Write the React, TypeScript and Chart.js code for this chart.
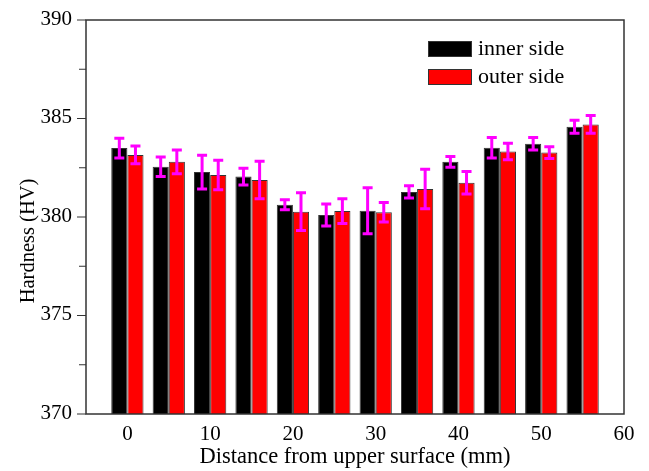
import React, { useEffect, useRef } from "react";
import { Chart, registerables } from "chart.js";

Chart.register(...registerables);

const positions = [0, 5, 10, 15, 20, 25, 30, 35, 40, 45, 50, 55];
const innerValues = [383.5, 382.55, 382.28, 382.05, 380.62, 380.1, 380.32, 381.27, 382.8, 383.52, 383.72, 384.58];
const innerErrors = [0.5, 0.5, 0.86, 0.43, 0.25, 0.56, 1.17, 0.31, 0.27, 0.52, 0.32, 0.33];
const outerValues = [383.15, 382.8, 382.13, 381.88, 380.27, 380.3, 380.24, 381.42, 381.74, 383.33, 383.27, 384.7];
const outerErrors = [0.45, 0.6, 0.75, 0.95, 0.96, 0.63, 0.49, 1.0, 0.57, 0.42, 0.3, 0.45];
const xTicks = [0, 10, 20, 30, 40, 50, 60];
const yMajorTicks = [370, 375, 380, 385, 390];
const yMinorTicks = [372.5, 377.5, 382.5, 387.5];
const seriesLabels = ["inner side", "outer side"];
const seriesColors = ["#000000", "#ff0000"];
const yTitle = "Hardness (HV)";
const xTitle = "Distance from upper surface (mm)";

const FONT = "'Liberation Serif', 'Times New Roman', serif";

const extrasPlugin = {
  id: "extras",
  afterDatasetsDraw(chart: any) {
    const ctx = chart.ctx;
    const yScale = chart.scales.y;
    const area = chart.chartArea;
    const errs = [innerErrors, outerErrors];
    const vals = [innerValues, outerValues];
    ctx.save();
    // error bars
    ctx.strokeStyle = "#ff00ff";
    ctx.lineWidth = 3;
    chart.data.datasets.forEach((_ds: any, di: number) => {
      const meta = chart.getDatasetMeta(di);
      meta.data.forEach((el: any, i: number) => {
        const x = el.x;
        const yt = yScale.getPixelForValue(vals[di][i] + errs[di][i]);
        const yb = yScale.getPixelForValue(vals[di][i] - errs[di][i]);
        ctx.beginPath();
        ctx.moveTo(x, yt);
        ctx.lineTo(x, yb);
        ctx.moveTo(x - 5, yt);
        ctx.lineTo(x + 5, yt);
        ctx.moveTo(x - 5, yb);
        ctx.lineTo(x + 5, yb);
        ctx.stroke();
      });
    });
    // frame
    ctx.strokeStyle = "#333333";
    ctx.lineWidth = 1.5;
    ctx.strokeRect(area.left, area.top, area.right - area.left, area.bottom - area.top);
    // y ticks
    ctx.lineWidth = 1.2;
    ctx.beginPath();
    yMajorTicks.forEach((v) => {
      const y = yScale.getPixelForValue(v);
      ctx.moveTo(area.left - 9, y);
      ctx.lineTo(area.left, y);
    });
    yMinorTicks.forEach((v) => {
      const y = yScale.getPixelForValue(v);
      ctx.moveTo(area.left - 7, y);
      ctx.lineTo(area.left, y);
    });
    ctx.stroke();
    // y title
    ctx.save();
    ctx.translate(29, 241);
    ctx.rotate(-Math.PI / 2);
    ctx.font = "20.5px " + FONT;
    ctx.fillStyle = "#000";
    ctx.textAlign = "center";
    ctx.textBaseline = "middle";
    ctx.fillText(yTitle, 0, 0);
    ctx.restore();
    // legend
    const lx = 428;
    const rows = [41, 69];
    ctx.font = "22px " + FONT;
    ctx.textBaseline = "middle";
    ctx.textAlign = "left";
    seriesLabels.forEach((lab, i) => {
      ctx.fillStyle = seriesColors[i];
      ctx.fillRect(lx, rows[i], 44, 16);
      ctx.strokeStyle = "#333333";
      ctx.lineWidth = 1;
      ctx.strokeRect(lx + 0.5, rows[i] + 0.5, 43, 15);
      ctx.fillStyle = "#000000";
      ctx.fillText(lab, lx + 50, rows[i] + 8);
    });
    ctx.restore();
  },
};

export default function App() {
  const ref = useRef<HTMLCanvasElement | null>(null);
  useEffect(() => {
    document.body.style.margin = "0";
    const canvas = ref.current;
    if (!canvas) return;
    const chart = new Chart(canvas, {
      type: "bar",
      data: {
        datasets: [
          {
            label: seriesLabels[0],
            data: positions.map((x, i) => ({ x, y: innerValues[i] })),
            backgroundColor: seriesColors[0],
            borderColor: "#333333",
            borderWidth: 1,
            categoryPercentage: 0.78,
            barPercentage: 1,
          },
          {
            label: seriesLabels[1],
            data: positions.map((x, i) => ({ x, y: outerValues[i] })),
            backgroundColor: seriesColors[1],
            borderColor: "#333333",
            borderWidth: 1,
            categoryPercentage: 0.78,
            barPercentage: 1,
          },
        ],
      },
      options: {
        animation: false,
        responsive: false,
        devicePixelRatio: 1,
        layout: { padding: { left: 0, right: 25, top: 20, bottom: 0 } },
        plugins: { legend: { display: false }, tooltip: { enabled: false } },
        scales: {
          x: {
            type: "linear",
            min: -5,
            max: 60,
            offset: false,
            afterBuildTicks: (scale: any) => {
              scale.ticks = xTicks.map((v) => ({ value: v }));
            },
            afterFit: (scale: any) => {
              scale.height = 57;
              scale.paddingLeft = 0;
              scale.paddingRight = 0;
            },
            grid: { display: false, drawTicks: false, offset: false },
            border: { display: false },
            ticks: {
              color: "#000",
              font: { family: FONT, size: 21 },
              padding: 8,
              maxRotation: 0,
              autoSkip: false,
            },
            title: {
              display: true,
              text: xTitle,
              color: "#000",
              font: { family: FONT, size: 22.5 },
              padding: { top: 0, bottom: 0 },
            },
          },
          y: {
            min: 370,
            max: 390,
            afterBuildTicks: (scale: any) => {
              scale.ticks = yMajorTicks.map((v) => ({ value: v }));
            },
            afterFit: (scale: any) => {
              scale.width = 86;
              scale.paddingTop = 0;
              scale.paddingBottom = 0;
            },
            grid: { display: false, drawTicks: false },
            border: { display: false },
            ticks: {
              color: "#000",
              font: { family: FONT, size: 21 },
              padding: 14,
              labelOffset: -1,
            },
            title: { display: false },
          },
        },
      },
      plugins: [extrasPlugin],
    });
    return () => chart.destroy();
  }, []);
  return (
    <div style={{ width: 649, height: 471 }}>
      <canvas ref={ref} width={649} height={471} style={{ display: "block" }} />
    </div>
  );
}
